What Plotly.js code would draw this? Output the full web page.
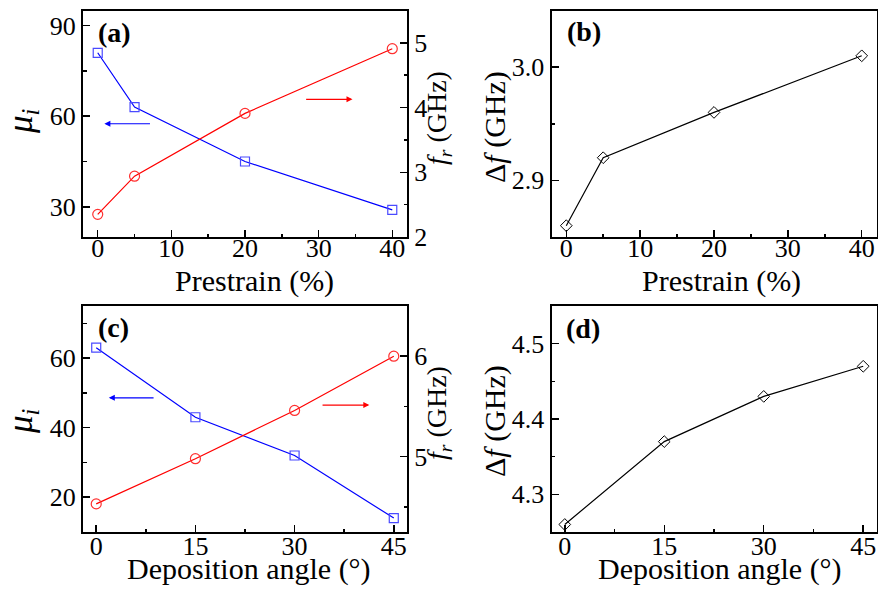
<!DOCTYPE html>
<html>
<head>
<meta charset="utf-8">
<script src="https://cdn.plot.ly/plotly-3.0.1.min.js"></script>
<style>html,body{margin:0;padding:0;background:#fff;}#chart{width:878px;height:589px;}</style>
</head>
<body>
<div id="chart"></div>
<script>
// Panel (a)/(b): prestrain
const prestrain = [0, 5, 20, 40];
const muPrestrain = [81, 63, 45, 29];
const frPrestrain = [2.35, 2.94, 3.91, 4.91];
const dfPrestrain = [2.86, 2.92, 2.96, 3.01];
// Panel (c)/(d): deposition angle
const angle = [0, 15, 30, 45];
const muAngle = [63, 43, 32, 14];
const frAngle = [4.53, 4.98, 5.46, 6.0];
const dfAngle = [4.26, 4.37, 4.43, 4.47];
// Texts
const panelLabels = ['(a)', '(b)', '(c)', '(d)'];
const xTitles = ['Prestrain (%)', 'Prestrain (%)', 'Deposition angle (°)', 'Deposition angle (°)'];
const muTitle = '<i>μ</i><sub><i>i</i></sub>';
const frTitle = '<i>f</i><sub><i>r</i></sub> (GHz)';
const dfTitle = 'Δ<i>f</i> (GHz)';

const FONT = 'Liberation Serif';
const BLUE = '#0000ff', RED = '#ff0000';
const tickFont = {family: FONT, size: 26, color: '#000'};
const titleFont = {family: FONT, size: 30, color: '#000'};
const frFont = {family: FONT, size: 28, color: '#000'};
const muFont = {family: FONT, size: 35, color: '#000'};
const W = 878, H = 589;
const px = v => v / W, py = v => 1 - v / H;

function ax(extra) {
  return Object.assign({
    showline: true, linewidth: 2, linecolor: '#000', mirror: true,
    ticks: 'inside', ticklen: 7, tickwidth: 1.5, tickcolor: '#000',
    showgrid: false, zeroline: false, tickfont: tickFont, fixedrange: true
  }, extra);
}
// label-only x axis, lifted slightly toward the frame
function labelAx(over, range, dtick, posPx) {
  return {overlaying: over, anchor: 'free', position: py(posPx), range: range, dtick: dtick, tick0: 0,
    showline: false, ticks: '', showgrid: false, zeroline: false, tickfont: tickFont, fixedrange: true};
}

const sqMarker = {symbol: 'square-open', size: 9, color: '#4a4aff', line: {width: 1.2}};
const ciMarker = {symbol: 'circle-open', size: 10, color: '#ff3030', line: {width: 1.2}};
const diMarker = {symbol: 'diamond-open', size: 9, color: '#000', line: {width: 1}};
const ghost = (x, y, xa, ya) => ({x: x, y: y, xaxis: xa, yaxis: ya, mode: 'markers',
  marker: {opacity: 0, size: 1}, hoverinfo: 'skip', showlegend: false});

const data = [
  {x: prestrain, y: muPrestrain, xaxis: 'x', yaxis: 'y', mode: 'lines+markers', line: {color: BLUE, width: 1.2}, marker: sqMarker},
  {x: prestrain, y: frPrestrain, xaxis: 'x', yaxis: 'y2', mode: 'lines+markers', line: {color: RED, width: 1.2}, marker: ciMarker},
  {x: prestrain, y: dfPrestrain, xaxis: 'x2', yaxis: 'y3', mode: 'lines+markers', line: {color: '#000', width: 1.2}, marker: diMarker},
  {x: angle, y: muAngle, xaxis: 'x3', yaxis: 'y4', mode: 'lines+markers', line: {color: BLUE, width: 1.2}, marker: sqMarker},
  {x: angle, y: frAngle, xaxis: 'x3', yaxis: 'y5', mode: 'lines+markers', line: {color: RED, width: 1.2}, marker: ciMarker},
  {x: angle, y: dfAngle, xaxis: 'x4', yaxis: 'y6', mode: 'lines+markers', line: {color: '#000', width: 1.2}, marker: diMarker},
  ghost(prestrain, muPrestrain, 'x5', 'y'),
  ghost(prestrain, dfPrestrain, 'x6', 'y3'),
  ghost(angle, muAngle, 'x7', 'y4'),
  ghost(angle, dfAngle, 'x8', 'y6')
];

const xDomL = [px(83), px(407)], xDomR = [px(551.5), px(876.5)];
const yDomTop = [py(237), py(10.5)], yDomBot = [py(532), py(306)];
const minorT = d => ({dtick: d, ticklen: 3.5, ticks: 'inside', tickcolor: '#000'});

function txt(text, x, y, font, angle, anchorX) {
  return {text: text, xref: 'paper', yref: 'paper', x: px(x), y: py(y),
    xanchor: anchorX || 'center', yanchor: 'middle', showarrow: false, font: font, textangle: angle || 0};
}
function arrow(xr, yr, x0, x1, y, color) {
  return {text: '', xref: xr, yref: yr, axref: xr, ayref: yr, x: x1, y: y, ax: x0, ay: y,
    showarrow: true, arrowhead: 2, arrowsize: 1, arrowwidth: 1.2, arrowcolor: color, standoff: 0};
}
const lblFont = {family: FONT, size: 28, color: '#000'};

const layout = {
  width: W, height: H,
  margin: {l: 0, r: 0, t: 0, b: 0},
  paper_bgcolor: '#fff', plot_bgcolor: 'rgba(0,0,0,0)',
  showlegend: false,
  font: {family: FONT, color: '#000'},
  xaxis: ax({domain: xDomL, anchor: 'y', range: [-2, 42], dtick: 10, tick0: 0, minor: minorT(5), showticklabels: false}),
  yaxis: ax({domain: yDomTop, anchor: 'x', range: [20, 95], dtick: 30, tick0: 0, mirror: false, minor: minorT(15)}),
  yaxis2: ax({overlaying: 'y', side: 'right', anchor: 'x', range: [2, 5.5], dtick: 1, tick0: 0, mirror: false, minor: minorT(0.5)}),
  xaxis2: ax({domain: xDomR, anchor: 'y3', range: [-2, 42], dtick: 10, tick0: 0, minor: minorT(5), showticklabels: false}),
  yaxis3: ax({domain: yDomTop, anchor: 'x2', range: [2.85, 3.05], dtick: 0.1, tick0: 0, tickformat: '.1f', minor: minorT(0.05)}),
  xaxis3: ax({domain: xDomL, anchor: 'y4', range: [-2, 47], dtick: 15, tick0: 0, minor: minorT(7.5), showticklabels: false}),
  yaxis4: ax({domain: yDomBot, anchor: 'x3', range: [10, 75], dtick: 20, tick0: 0, mirror: false, minor: minorT(10)}),
  yaxis5: ax({overlaying: 'y4', side: 'right', anchor: 'x3', range: [4.25, 6.5], dtick: 1, tick0: 0, mirror: false, minor: minorT(0.5)}),
  xaxis4: ax({domain: xDomR, anchor: 'y6', range: [-2, 47], dtick: 15, tick0: 0, minor: minorT(7.5), showticklabels: false}),
  yaxis6: ax({domain: yDomBot, anchor: 'x4', range: [4.25, 4.55], dtick: 0.1, tick0: 0, tickformat: '.1f', minor: minorT(0.05)}),
  xaxis5: labelAx('x', [-2, 42], 10, 230),
  xaxis6: labelAx('x2', [-2, 42], 10, 230),
  xaxis7: labelAx('x3', [-2, 47], 15, 528),
  xaxis8: labelAx('x4', [-2, 47], 15, 528),
  annotations: [
    txt('<b>' + panelLabels[0] + '</b>', 96, 33, lblFont, 0, 'left'),
    txt('<b>' + panelLabels[1] + '</b>', 565, 32, lblFont, 0, 'left'),
    txt('<b>' + panelLabels[2] + '</b>', 96, 327, lblFont, 0, 'left'),
    txt('<b>' + panelLabels[3] + '</b>', 564, 328, lblFont, 0, 'left'),
    // axis titles
    txt(xTitles[0], 254, 281, titleFont),
    txt(xTitles[1], 721, 281, titleFont),
    txt(xTitles[2], 249, 569, titleFont),
    txt(xTitles[3], 720, 569, titleFont),
    txt(muTitle, 22, 121, muFont, -90),
    txt(muTitle, 22, 421, muFont, -90),
    txt(frTitle, 438, 118, frFont, -90),
    txt(frTitle, 438, 413, frFont, -90),
    txt(dfTitle, 495, 127, titleFont, -90),
    txt(dfTitle, 495, 421, titleFont, -90),
    // direction arrows
    arrow('x', 'y', 7.3, 0.9, 57.5, BLUE),
    arrow('x', 'y', 28.1, 34.6, 65.6, RED),
    arrow('x3', 'y4', 8.9, 1.9, 48.6, BLUE),
    arrow('x3', 'y4', 34.0, 41.3, 46.5, RED)
  ]
};

Plotly.newPlot('chart', data, layout, {displayModeBar: false, staticPlot: true});
</script>
</body>
</html>
